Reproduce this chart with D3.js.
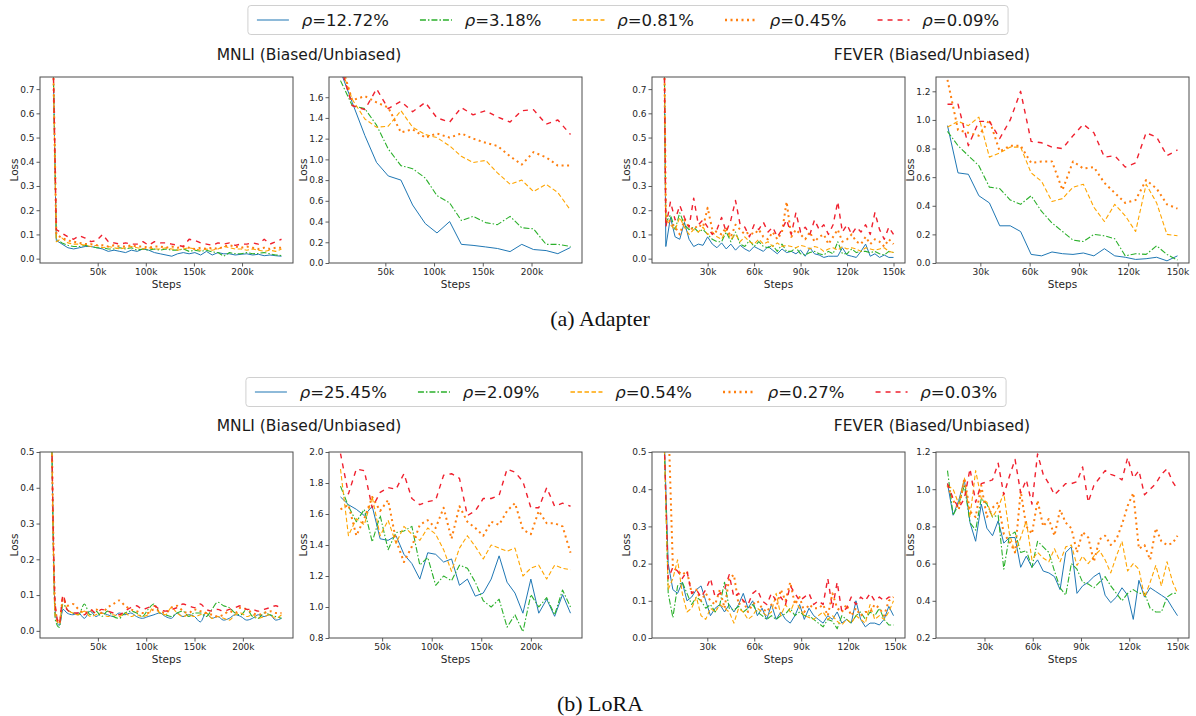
<!DOCTYPE html>
<html><head><meta charset="utf-8">
<script src="https://cdn.jsdelivr.net/npm/d3@7/dist/d3.min.js"></script>
<style>
html,body{margin:0;padding:0;background:#fff;}
svg text{font-family:"DejaVu Sans",sans-serif;}
</style></head>
<body>
<svg id="chart" width="1196" height="716"></svg>
<script>
// ---------- legend labels ----------
const rhoAdapter = ["12.72%", "3.18%", "0.81%", "0.45%", "0.09%"];
const rhoLora = ["25.45%", "2.09%", "0.54%", "0.27%", "0.03%"];
const titlesText = ["MNLI (Biased/Unbiased)", "FEVER (Biased/Unbiased)"];
const captions = ["(a) Adapter", "(b) LoRA"];

// ---------- tick labels ----------
const xTicksMnli = [50, 100, 150, 200];
const xTicksFever = [30, 60, 90, 120, 150];
const yTicksBiasedA = [0.0, 0.1, 0.2, 0.3, 0.4, 0.5, 0.6, 0.7];
const yTicksMnliUA = [0.0, 0.2, 0.4, 0.6, 0.8, 1.0, 1.2, 1.4, 1.6];
const yTicksFeverUA = [0.0, 0.2, 0.4, 0.6, 0.8, 1.0, 1.2];
const yTicksBiasedL = [0.0, 0.1, 0.2, 0.3, 0.4, 0.5];
const yTicksMnliUL = [0.8, 1.0, 1.2, 1.4, 1.6, 1.8, 2.0];
const yTicksFeverUL = [0.2, 0.4, 0.6, 0.8, 1.0, 1.2];

// ---------- (a) Adapter, MNLI biased ----------
const stepsA_MnliB = [2,7,13,19,25,31,37,43,49,55,61,67,73,79,85,91,97,103,109,115,121,127,133,139,145,151,157,163,169,175,181,187,193,199,205,211,217,223,229,235,241];
const A_MnliB_1 = [1.2,0.075,0.06,0.045,0.04,0.045,0.05,0.05,0.045,0.04,0.03,0.035,0.03,0.025,0.035,0.03,0.04,0.035,0.025,0.02,0.015,0.01,0.02,0.025,0.02,0.025,0.015,0.03,0.015,0.025,0.02,0.02,0.015,0.018,0.02,0.015,0.018,0.012,0.015,0.012,0.01];
const A_MnliB_2 = [1.2,0.08,0.065,0.055,0.05,0.05,0.055,0.05,0.045,0.045,0.04,0.04,0.045,0.04,0.045,0.035,0.04,0.035,0.04,0.035,0.04,0.035,0.035,0.04,0.03,0.035,0.03,0.035,0.028,0.025,0.01,0.025,0.02,0.02,0.025,0.02,0.022,0.025,0.02,0.015,0.013];
const A_MnliB_3 = [1.2,0.07,0.085,0.065,0.06,0.06,0.055,0.05,0.055,0.045,0.05,0.045,0.04,0.045,0.05,0.045,0.04,0.045,0.04,0.04,0.045,0.04,0.035,0.04,0.045,0.04,0.035,0.04,0.035,0.04,0.05,0.045,0.04,0.04,0.035,0.04,0.035,0.03,0.035,0.03,0.04];
const A_MnliB_4 = [1.2,0.1,0.085,0.075,0.07,0.065,0.06,0.06,0.055,0.055,0.05,0.055,0.05,0.05,0.055,0.05,0.05,0.045,0.05,0.05,0.045,0.05,0.045,0.05,0.045,0.04,0.045,0.04,0.045,0.04,0.05,0.055,0.05,0.045,0.05,0.045,0.04,0.045,0.04,0.045,0.045];
const A_MnliB_5 = [1.2,0.12,0.105,0.09,0.08,0.095,0.085,0.07,0.075,0.1,0.07,0.065,0.06,0.065,0.06,0.06,0.07,0.055,0.07,0.065,0.065,0.06,0.055,0.05,0.08,0.075,0.065,0.06,0.055,0.065,0.06,0.065,0.055,0.06,0.06,0.065,0.06,0.08,0.06,0.07,0.08];

// ---------- (a) Adapter, MNLI unbiased ----------
const stepsA_MnliU = [4,16,29,41,53,66,78,91,103,116,128,140,153,165,178,190,202,215,227,240];
const A_MnliU_1 = [1.85,1.55,1.23,0.97,0.84,0.80,0.56,0.38,0.29,0.40,0.18,0.17,0.155,0.14,0.11,0.18,0.13,0.12,0.09,0.15];
const A_MnliU_2 = [1.76,1.52,1.49,1.33,1.10,0.94,0.91,0.82,0.65,0.58,0.41,0.45,0.39,0.37,0.45,0.34,0.33,0.18,0.18,0.16];
const A_MnliU_3 = [1.9,1.58,1.39,1.31,1.32,1.47,1.31,1.24,1.21,1.13,1.03,0.97,0.99,0.87,0.76,0.80,0.69,0.76,0.68,0.51];
const A_MnliU_4 = [1.95,1.57,1.61,1.55,1.50,1.26,1.29,1.21,1.25,1.21,1.25,1.20,1.16,1.13,1.03,0.95,1.07,1.02,0.94,0.94];
const A_MnliU_5 = [1.9,1.52,1.48,1.68,1.49,1.56,1.46,1.55,1.40,1.36,1.50,1.43,1.47,1.41,1.36,1.47,1.48,1.34,1.38,1.24];

// ---------- (a) Adapter, FEVER biased ----------
const stepsA_FeverB = [1.5,3,6,9,12,15,18,21,24,27,30,33,36,39,42,45,48,51,54,57,60,63,66,69,72,75,78,81,84,87,90,93,96,99,102,105,108,111,114,117,120,123,126,129,132,135,138,141,144,147,150];
const A_FeverB_1 = [1.2,0.05,0.17,0.09,0.08,0.15,0.08,0.05,0.06,0.055,0.09,0.06,0.045,0.065,0.04,0.06,0.035,0.055,0.04,0.03,0.05,0.04,0.03,0.05,0.035,0.02,0.04,0.025,0.03,0.02,0.035,0.01,0.045,0.02,0.015,0.005,0.01,0.01,0.01,0.045,0.015,0.01,0.005,0.03,0.06,0.01,0.02,0.005,0.015,0.005,0.005];
const A_FeverB_2 = [1.2,0.15,0.18,0.12,0.19,0.14,0.12,0.13,0.11,0.12,0.10,0.08,0.07,0.07,0.11,0.07,0.11,0.06,0.05,0.075,0.05,0.07,0.05,0.045,0.055,0.03,0.06,0.03,0.03,0.045,0.02,0.015,0.025,0.03,0.02,0.015,0.03,0.02,0.07,0.02,0.02,0.04,0.025,0.03,0.03,0.025,0.03,0.02,0.015,0.03,0.025];
const A_FeverB_3 = [1.2,0.16,0.14,0.12,0.17,0.13,0.10,0.12,0.11,0.13,0.10,0.11,0.09,0.08,0.12,0.08,0.10,0.07,0.09,0.07,0.06,0.08,0.06,0.07,0.05,0.065,0.05,0.055,0.05,0.045,0.055,0.05,0.04,0.05,0.045,0.03,0.04,0.045,0.035,0.05,0.04,0.045,0.04,0.03,0.045,0.04,0.035,0.04,0.045,0.03,0.025];
const A_FeverB_4 = [1.2,0.18,0.15,0.13,0.10,0.16,0.13,0.12,0.14,0.13,0.21,0.12,0.11,0.10,0.13,0.09,0.14,0.12,0.10,0.11,0.10,0.12,0.09,0.08,0.11,0.08,0.11,0.235,0.09,0.12,0.10,0.08,0.11,0.07,0.09,0.10,0.06,0.09,0.12,0.07,0.08,0.10,0.07,0.06,0.09,0.06,0.08,0.07,0.05,0.08,0.06];
const A_FeverB_5 = [1.2,0.13,0.235,0.16,0.22,0.17,0.13,0.25,0.14,0.16,0.13,0.10,0.12,0.17,0.11,0.16,0.24,0.14,0.13,0.09,0.14,0.12,0.15,0.11,0.13,0.09,0.12,0.16,0.10,0.19,0.11,0.13,0.10,0.16,0.12,0.14,0.10,0.14,0.235,0.11,0.14,0.10,0.13,0.11,0.14,0.10,0.19,0.12,0.08,0.13,0.10];

// ---------- (a) Adapter, FEVER unbiased ----------
const stepsA_FeverU = [10,16.4,22.7,29.1,35.5,41.8,48.2,54.5,60.9,67.3,73.6,80,86.4,92.7,99.1,105.5,111.8,118.2,124.5,130.9,137.3,143.6,150];
const A_FeverU_1 = [0.96,0.63,0.62,0.47,0.42,0.26,0.26,0.22,0.06,0.05,0.077,0.065,0.06,0.07,0.05,0.10,0.05,0.04,0.025,0.03,0.04,0.015,0.05];
const A_FeverU_2 = [0.92,0.82,0.75,0.68,0.53,0.52,0.44,0.41,0.47,0.36,0.28,0.22,0.16,0.15,0.20,0.19,0.17,0.05,0.065,0.06,0.12,0.06,0.02];
const A_FeverU_3 = [0.95,0.99,0.96,1.02,0.74,0.77,0.81,0.81,0.63,0.57,0.43,0.45,0.53,0.55,0.39,0.29,0.41,0.33,0.22,0.55,0.42,0.20,0.19];
const A_FeverU_4 = [1.28,0.93,0.91,0.89,1.00,0.78,0.82,0.82,0.70,0.71,0.71,0.51,0.71,0.66,0.67,0.56,0.49,0.42,0.44,0.58,0.52,0.41,0.38];
const A_FeverU_5 = [1.11,1.11,0.82,0.99,0.99,0.87,1.00,1.20,0.85,0.84,0.81,0.80,0.89,0.97,0.91,0.74,0.75,0.67,0.70,0.91,0.88,0.75,0.79];

// ---------- (b) LoRA, MNLI biased ----------
const stepsL_MnliB = [2,6,10,14,18,24,30,36,42,48,54,60,66,72,78,84,90,96,102,108,114,120,126,132,138,144,150,156,162,168,174,180,186,192,198,204,210,216,222,228,234,240];
const L_MnliB_1 = [0.6,0.05,0.015,0.06,0.05,0.045,0.05,0.035,0.055,0.04,0.05,0.045,0.04,0.05,0.045,0.05,0.04,0.035,0.04,0.045,0.05,0.04,0.035,0.05,0.04,0.045,0.04,0.025,0.05,0.035,0.04,0.03,0.035,0.045,0.04,0.03,0.035,0.045,0.04,0.045,0.03,0.035];
const L_MnliB_2 = [0.6,0.03,0.01,0.075,0.06,0.05,0.045,0.075,0.045,0.055,0.04,0.055,0.04,0.035,0.05,0.055,0.05,0.04,0.06,0.075,0.05,0.045,0.04,0.05,0.055,0.04,0.05,0.05,0.04,0.06,0.08,0.07,0.065,0.05,0.045,0.06,0.04,0.035,0.05,0.045,0.04,0.035];
const L_MnliB_3 = [0.6,0.04,0.02,0.095,0.06,0.05,0.045,0.055,0.04,0.045,0.05,0.04,0.045,0.04,0.05,0.04,0.045,0.04,0.045,0.07,0.05,0.045,0.065,0.05,0.04,0.045,0.04,0.045,0.05,0.035,0.04,0.035,0.03,0.045,0.05,0.04,0.045,0.035,0.04,0.045,0.035,0.045];
const L_MnliB_4 = [0.6,0.06,0.02,0.09,0.07,0.075,0.06,0.05,0.055,0.06,0.05,0.065,0.075,0.085,0.07,0.06,0.055,0.05,0.05,0.06,0.055,0.05,0.065,0.07,0.055,0.05,0.06,0.055,0.05,0.045,0.04,0.045,0.055,0.05,0.065,0.06,0.05,0.045,0.05,0.055,0.05,0.05];
const L_MnliB_5 = [0.6,0.07,0.02,0.1,0.06,0.05,0.05,0.045,0.06,0.05,0.06,0.055,0.05,0.045,0.055,0.065,0.07,0.06,0.065,0.07,0.06,0.055,0.06,0.065,0.075,0.07,0.065,0.075,0.06,0.055,0.06,0.055,0.06,0.065,0.07,0.06,0.06,0.055,0.06,0.065,0.07,0.06];

// ---------- (b) LoRA, MNLI unbiased ----------
const stepsL_MnliU = [8,16,24,32,40,48,56,64,72,80,88,96,104,112,120,128,136,144,152,160,168,176,184,192,200,208,216,224,232,240];
const L_MnliU_1 = [1.71,1.66,1.63,1.59,1.65,1.44,1.43,1.46,1.34,1.28,1.18,1.35,1.34,1.29,1.31,1.14,1.18,1.07,1.09,1.18,1.33,1.16,1.09,0.96,1.18,0.96,1.05,0.94,1.08,0.96];
const L_MnliU_2 = [1.78,1.65,1.55,1.63,1.42,1.59,1.37,1.48,1.49,1.52,1.27,1.32,1.14,1.20,1.17,1.27,1.25,1.16,1.04,1.00,1.05,0.87,0.95,0.84,1.08,1.00,1.06,0.95,1.11,1.00];
const L_MnliU_3 = [1.89,1.46,1.57,1.53,1.71,1.46,1.56,1.41,1.52,1.47,1.43,1.51,1.47,1.37,1.23,1.38,1.46,1.39,1.31,1.40,1.38,1.36,1.38,1.20,1.25,1.27,1.18,1.27,1.25,1.24];
const L_MnliU_4 = [1.63,1.66,1.46,1.57,1.71,1.62,1.69,1.43,1.29,1.39,1.53,1.56,1.51,1.64,1.44,1.65,1.55,1.51,1.46,1.55,1.53,1.62,1.67,1.50,1.47,1.62,1.54,1.54,1.52,1.35];
const L_MnliU_5 = [1.99,1.73,1.89,1.88,1.64,1.74,1.77,1.76,1.86,1.70,1.66,1.68,1.69,1.85,1.86,1.83,1.59,1.62,1.70,1.70,1.72,1.89,1.87,1.81,1.64,1.64,1.77,1.65,1.67,1.65];

// ---------- (b) LoRA, FEVER biased ----------
const stepsL_FeverB = [2,5,8,11,14,17,20,23,26,29,32,35,38,41,44,47,50,53,56,59,62,65,68,71,74,77,80,83,86,89,92,95,98,101,104,107,110,113,116,119,122,125,128,131,134,137,140,143,146,149];
const L_FeverB_1 = [0.6,0.20,0.13,0.12,0.15,0.10,0.11,0.13,0.14,0.10,0.06,0.08,0.09,0.07,0.09,0.07,0.09,0.12,0.08,0.10,0.06,0.08,0.05,0.09,0.05,0.07,0.05,0.04,0.06,0.09,0.05,0.08,0.06,0.05,0.04,0.06,0.05,0.07,0.04,0.05,0.04,0.10,0.05,0.03,0.04,0.04,0.035,0.05,0.085,0.06];
const L_FeverB_2 = [0.6,0.12,0.055,0.14,0.15,0.12,0.09,0.11,0.10,0.08,0.09,0.07,0.09,0.15,0.08,0.075,0.085,0.07,0.08,0.09,0.07,0.06,0.05,0.06,0.05,0.06,0.065,0.08,0.06,0.07,0.06,0.06,0.05,0.04,0.03,0.05,0.045,0.025,0.06,0.05,0.04,0.06,0.07,0.05,0.07,0.06,0.08,0.05,0.035,0.035];
const L_FeverB_3 = [0.6,0.13,0.16,0.21,0.12,0.07,0.08,0.11,0.06,0.05,0.08,0.07,0.09,0.08,0.07,0.04,0.08,0.07,0.05,0.06,0.08,0.07,0.06,0.07,0.12,0.06,0.09,0.07,0.10,0.08,0.06,0.055,0.05,0.06,0.07,0.05,0.06,0.045,0.035,0.05,0.04,0.06,0.05,0.04,0.09,0.05,0.06,0.05,0.07,0.10];
const L_FeverB_4 = [0.6,0.6,0.19,0.18,0.17,0.18,0.12,0.13,0.10,0.12,0.10,0.09,0.13,0.08,0.16,0.17,0.09,0.10,0.07,0.09,0.10,0.08,0.07,0.09,0.08,0.13,0.10,0.15,0.09,0.11,0.07,0.09,0.08,0.08,0.09,0.06,0.12,0.08,0.07,0.09,0.06,0.08,0.06,0.07,0.07,0.09,0.08,0.06,0.10,0.11];
const L_FeverB_5 = [0.6,0.16,0.19,0.18,0.16,0.18,0.12,0.13,0.11,0.13,0.16,0.11,0.12,0.13,0.17,0.11,0.12,0.10,0.09,0.12,0.13,0.10,0.09,0.12,0.10,0.11,0.09,0.14,0.12,0.10,0.11,0.12,0.09,0.10,0.09,0.16,0.08,0.15,0.07,0.08,0.11,0.09,0.11,0.10,0.12,0.10,0.11,0.10,0.11,0.11];

// ---------- (b) LoRA, FEVER unbiased ----------
const stepsL_FeverU = [7,10.5,14,17.5,21,24.5,28,31.5,35,38.5,42,45.5,49,52.5,56,59.5,63,66.5,70,73.5,77,80.5,84,87.5,91,94.5,98,101.5,105,108.5,112,115.5,119,122.5,126,129.5,133,136.5,140,143.5,147,150];
const L_FeverU_1 = [1.03,0.86,0.94,1.05,0.82,0.72,0.92,0.79,0.75,0.83,0.71,0.74,0.74,0.58,0.64,0.58,0.62,0.56,0.55,0.53,0.46,0.66,0.69,0.44,0.48,0.50,0.53,0.55,0.43,0.39,0.42,0.47,0.43,0.30,0.51,0.42,0.47,0.45,0.43,0.41,0.36,0.32];
const L_FeverU_2 = [1.10,0.86,0.92,1.02,0.82,0.78,0.95,0.92,0.85,0.86,0.57,0.75,0.77,0.66,0.67,0.58,0.72,0.69,0.66,0.56,0.47,0.43,0.60,0.57,0.50,0.49,0.47,0.50,0.53,0.48,0.44,0.40,0.44,0.46,0.44,0.44,0.36,0.34,0.34,0.42,0.44,0.44];
const L_FeverU_3 = [1.02,1.00,0.92,1.06,0.85,1.10,0.95,0.93,0.85,0.90,0.98,0.76,0.66,0.74,0.83,0.62,0.66,0.63,0.61,0.68,0.61,0.69,0.70,0.59,0.64,0.60,0.64,0.67,0.62,0.55,0.64,0.72,0.56,0.60,0.57,0.42,0.50,0.59,0.48,0.61,0.50,0.44];
const L_FeverU_4 = [1.02,0.94,0.89,1.06,0.88,0.85,1.02,0.85,0.90,0.93,0.76,0.72,0.66,0.99,0.80,0.76,0.94,0.80,0.84,0.75,0.89,0.82,0.79,0.66,0.77,0.74,0.61,0.73,0.75,0.70,0.73,0.81,0.91,0.98,0.68,0.70,0.62,0.79,0.72,0.70,0.71,0.75];
const L_FeverU_5 = [1.03,0.95,0.90,0.95,1.11,0.93,1.03,1.04,1.05,1.14,0.97,1.07,1.16,0.98,1.05,0.92,1.19,1.08,1.03,0.97,1.00,1.03,1.03,1.04,1.12,0.93,1.02,1.06,1.10,1.08,1.07,1.05,1.17,1.06,1.10,0.97,1.00,1.03,1.08,1.11,1.04,1.00];

// ---------- line styles ----------
const seriesStyles = [
  {color: "#1f77b4", dash: null, width: 1},
  {color: "#2bb02b", dash: "6,2,1.5,2", width: 1.1},
  {color: "#ffa500", dash: "4.5,2.5", width: 1.1},
  {color: "#ff7f0e", dash: "2,3.5", width: 2},
  {color: "#f0202e", dash: "5,5", width: 1.4}
];

const rowTops = [77, 452];
const panelLefts = [40, 329, 652, 936];
const panelW = 253, panelH = 186;

const panelDefs = [
  {row:0, col:0, steps:stepsA_MnliB, vals:[A_MnliB_1,A_MnliB_2,A_MnliB_3,A_MnliB_4,A_MnliB_5], ydom:[-0.018,0.75], yt:yTicksBiasedA, xt:xTicksMnli},
  {row:0, col:1, steps:stepsA_MnliU, vals:[A_MnliU_1,A_MnliU_2,A_MnliU_3,A_MnliU_4,A_MnliU_5], ydom:[0,1.795], yt:yTicksMnliUA, xt:xTicksMnli},
  {row:0, col:2, steps:stepsA_FeverB, vals:[A_FeverB_1,A_FeverB_2,A_FeverB_3,A_FeverB_4,A_FeverB_5], ydom:[-0.018,0.75], yt:yTicksBiasedA, xt:xTicksFever},
  {row:0, col:3, steps:stepsA_FeverU, vals:[A_FeverU_1,A_FeverU_2,A_FeverU_3,A_FeverU_4,A_FeverU_5], ydom:[0,1.3], yt:yTicksFeverUA, xt:xTicksFever},
  {row:1, col:0, steps:stepsL_MnliB, vals:[L_MnliB_1,L_MnliB_2,L_MnliB_3,L_MnliB_4,L_MnliB_5], ydom:[-0.02,0.5], yt:yTicksBiasedL, xt:xTicksMnli, smooth:true},
  {row:1, col:1, steps:stepsL_MnliU, vals:[L_MnliU_1,L_MnliU_2,L_MnliU_3,L_MnliU_4,L_MnliU_5], ydom:[0.8,2.0], yt:yTicksMnliUL, xt:xTicksMnli},
  {row:1, col:2, steps:stepsL_FeverB, vals:[L_FeverB_1,L_FeverB_2,L_FeverB_3,L_FeverB_4,L_FeverB_5], ydom:[0,0.5], yt:yTicksBiasedL, xt:xTicksFever},
  {row:1, col:3, steps:stepsL_FeverU, vals:[L_FeverU_1,L_FeverU_2,L_FeverU_3,L_FeverU_4,L_FeverU_5], ydom:[0.2,1.2], yt:yTicksFeverUL, xt:xTicksFever}
];

const svg = d3.select("#chart");
const defs = svg.append("defs");

panelDefs.forEach((p, i) => {
  const left = panelLefts[p.col], top = rowTops[p.row];
  const ext = d3.extent(p.steps);
  const pad = (ext[1] - ext[0]) * 0.05;
  const x = d3.scaleLinear().domain([ext[0] - pad, ext[1] + pad]).range([left, left + panelW]);
  const y = d3.scaleLinear().domain(p.ydom).range([top + panelH, top]);

  defs.append("clipPath").attr("id", "clip" + i)
    .append("rect").attr("x", left).attr("y", top).attr("width", panelW).attr("height", panelH);

  const g = svg.append("g");
  const lines = g.append("g").attr("clip-path", `url(#clip${i})`);
  const lineGen = d3.line()
    .x((d, k) => x(p.steps[k]))
    .y(d => y(d))
    .curve(p.smooth ? d3.curveMonotoneX : d3.curveLinear);

  p.vals.forEach((vals, s) => {
    const st = seriesStyles[s];
    lines.append("path")
      .attr("d", lineGen(vals))
      .attr("fill", "none")
      .attr("stroke", st.color)
      .attr("stroke-width", st.width)
      .attr("stroke-dasharray", st.dash)
      .attr("stroke-linejoin", "round");
  });

  const xa = g.append("g").attr("transform", `translate(0,${top + panelH})`)
    .call(d3.axisBottom(x).tickValues(p.xt).tickFormat(d => d + "k").tickSize(3.5).tickPadding(2));
  const ya = g.append("g").attr("transform", `translate(${left},0)`)
    .call(d3.axisLeft(y).tickValues(p.yt).tickFormat(d3.format(".1f")).tickSize(3.5).tickPadding(2));
  [xa, ya].forEach(a => {
    a.select(".domain").remove();
    a.selectAll(".tick line").attr("stroke", "#333").attr("stroke-width", 0.8);
    a.selectAll(".tick text").attr("fill", "#262626").attr("font-size", "9px")
      .attr("font-family", "DejaVu Sans");
  });

  g.append("rect").attr("x", left).attr("y", top).attr("width", panelW).attr("height", panelH)
    .attr("fill", "none").attr("stroke", "#4d4d4d").attr("stroke-width", 1);

  g.append("text").attr("x", left + panelW / 2).attr("y", top + panelH + 25)
    .attr("text-anchor", "middle").attr("font-size", "10.5px").attr("fill", "#262626").text("Steps");
  g.append("text").attr("transform", `translate(${left - 26},${top + panelH / 2}) rotate(-90)`)
    .attr("text-anchor", "middle").attr("dy", "0.35em").attr("font-size", "10.5px").attr("fill", "#262626").text("Loss");
});

// titles
const titleBaselines = [60, 431];
const titleCenters = [309, 932];
titleBaselines.forEach(by => {
  titlesText.forEach((t, j) => {
    svg.append("text").attr("x", titleCenters[j]).attr("y", by)
      .attr("text-anchor", "middle").attr("font-size", "15.5px").attr("fill", "#1a1a1a").text(t);
  });
});

// captions
const captionBaselines = [326, 711];
captions.forEach((c, j) => {
  svg.append("text").attr("x", 600).attr("y", captionBaselines[j])
    .attr("text-anchor", "middle").attr("font-size", "22px")
    .style("font-family", "'Liberation Serif','Times New Roman',serif")
    .attr("fill", "#111").text(c);
});

// legends
function drawLegend(labels, cx, cy) {
  const g = svg.append("g");
  const box = g.append("rect");
  const items = [];
  labels.forEach((lab, s) => {
    const ig = g.append("g");
    const st = seriesStyles[s];
    const ln = ig.append("line").attr("y1", cy).attr("y2", cy)
      .attr("stroke", st.color).attr("stroke-width", st.width === 1 ? 1.2 : st.width + 0.3)
      .attr("stroke-dasharray", st.dash);
    const tx = ig.append("text").attr("y", cy).attr("dy", "0.36em").attr("font-size", "16.5px").attr("fill", "#1a1a1a");
    tx.append("tspan").attr("font-style", "italic").text("ρ");
    tx.append("tspan").text("=" + lab);
    items.push({ln, tx, w: tx.node().getComputedTextLength()});
  });
  const handle = 32, gapT = 12.8, colSp = 31, padX = 9;
  const total = items.reduce((a, it) => a + handle + gapT + it.w, 0) + colSp * (items.length - 1);
  let xPos = cx - total / 2;
  items.forEach(it => {
    it.ln.attr("x1", xPos).attr("x2", xPos + handle);
    it.tx.attr("x", xPos + handle + gapT);
    xPos += handle + gapT + it.w + colSp;
  });
  box.attr("x", cx - total / 2 - padX).attr("y", cy - 14.5).attr("width", total + 2 * padX).attr("height", 29)
    .attr("rx", 3).attr("fill", "#fff").attr("stroke", "#d0d0d0").attr("stroke-width", 1);
}
drawLegend(rhoAdapter, 628, 20);
drawLegend(rhoLora, 626, 392);
</script>
</body></html>
